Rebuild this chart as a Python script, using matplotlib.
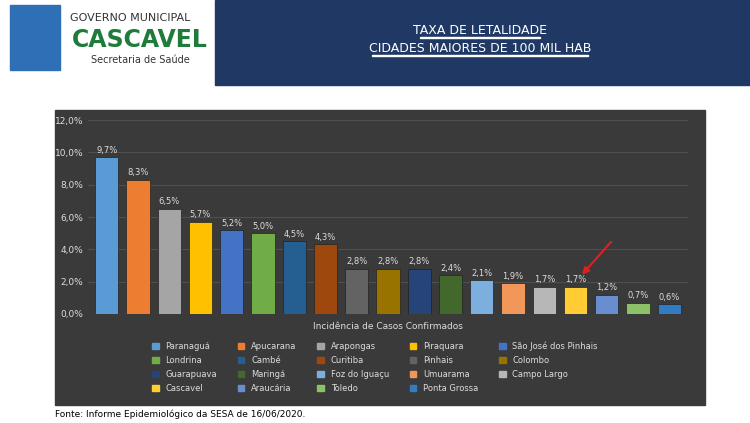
import matplotlib.pyplot as plt
from matplotlib.patches import Rectangle

cities = ['Paranaguá', 'Apucarana', 'Arapongas', 'Piraquara', 'São José dos Pinhais',
          'Londrina', 'Cambé', 'Curitiba', 'Pinhais', 'Colombo',
          'Guarapuava', 'Maringá', 'Foz do Iguaçu', 'Umuarama', 'Campo Largo',
          'Cascavel', 'Araucária', 'Toledo', 'Ponta Grossa']
rates = [9.7, 8.3, 6.5, 5.7, 5.2, 5.0, 4.5, 4.3, 2.8, 2.8, 2.8, 2.4, 2.1, 1.9, 1.7, 1.7, 1.2, 0.7, 0.6]
colors = ['#5B9BD5', '#ED7D31', '#A5A5A5', '#FFC000', '#4472C4',
          '#70AD47', '#255E91', '#9E480E', '#636363', '#997300',
          '#264478', '#43682B', '#7CAFDD', '#F1975A', '#B7B7B7',
          '#FFCD33', '#698ED0', '#8CC168', '#327DC2']

fig = plt.figure(figsize=(7.5, 4.23), dpi=100)
W, H = 750, 423

def box(x, y, w, h, **kw):
    # pixel coords, y from top
    fig.patches.append(Rectangle((x / W, 1 - (y + h) / H), w / W, h / H,
                                 transform=fig.transFigure, zorder=-5, **kw))

# header banner
box(215, 0, 535, 85, color='#1F3864')
fig.text(480 / W, 1 - 30 / H, 'TAXA DE LETALIDADE', color='white', ha='center', va='center', fontsize=9)
fig.text(480 / W, 1 - 48 / H, 'CIDADES MAIORES DE 100 MIL HAB', color='white', ha='center', va='center', fontsize=9)
box(420, 37, 120, 0.8, color='white')
box(372, 55, 216, 0.8, color='white')

# logo text
fig.text(130 / W, 1 - 18 / H, 'GOVERNO MUNICIPAL', color='#333333', ha='center', va='center', fontsize=8)
fig.text(140 / W, 1 - 40 / H, 'CASCAVEL', color='#1E7B3A', ha='center', va='center', fontsize=17, fontweight='bold')
fig.text(140 / W, 1 - 60 / H, 'Secretaria de Saúde', color='#333333', ha='center', va='center', fontsize=7)
box(10, 5, 50, 65, color='#2E6FB5')

# chart background
box(55, 110, 650, 295, color='#3A3A3A')

ax = fig.add_axes([88 / W, 1 - 314 / H, 600 / W, 194 / H])
ax.set_facecolor('none')
x = range(len(rates))
ax.bar(x, rates, color=colors, width=0.75, edgecolor='#222222', linewidth=0.5)
for i, v in enumerate(rates):
    ax.text(i, v + 0.15, f'{v:.1f}%'.replace('.', ','), color='#DDDDDD', ha='center', va='bottom', fontsize=6)
ax.set_ylim(0, 12)
ax.set_xlim(-0.6, len(rates) - 0.4)
ax.set_yticks(range(0, 13, 2))
ax.set_yticklabels([f'{v:.1f}%'.replace('.', ',') for v in range(0, 13, 2)], color='#DDDDDD', fontsize=6.5)
ax.set_xticks([])
ax.grid(axis='y', color='#555555', linewidth=0.6)
ax.set_axisbelow(True)
for s in ax.spines.values():
    s.set_visible(False)
ax.tick_params(length=0)
ax.set_xlabel('Incidência de Casos Confirmados', color='#DDDDDD', fontsize=6.5, labelpad=6)

# legend is row-major in the reference; matplotlib fills by column
ncol = 5
order = [i for c in range(ncol) for i in range(c, len(cities), ncol)]
handles = [Rectangle((0, 0), 1, 1, color=colors[i]) for i in order]
fig.legend(handles, [cities[i] for i in order], loc='center', bbox_to_anchor=(375 / W, 1 - 367 / H), ncol=ncol,
           frameon=False, fontsize=6, labelcolor='#DDDDDD', handlelength=0.8, handleheight=0.8,
           columnspacing=2.5, labelspacing=0.6)

# red arrow to Cascavel bar
ax.annotate('', xy=(15.15, 2.3), xytext=(16.2, 4.6),
            arrowprops=dict(arrowstyle='-|>', color='#E02020', lw=1.5))

fig.text(55 / W, 1 - 414 / H, 'Fonte: Informe Epidemiológico da SESA de 16/06/2020.', fontsize=6.5, va='center')

fig.savefig('out.png', dpi=100, facecolor='white')
